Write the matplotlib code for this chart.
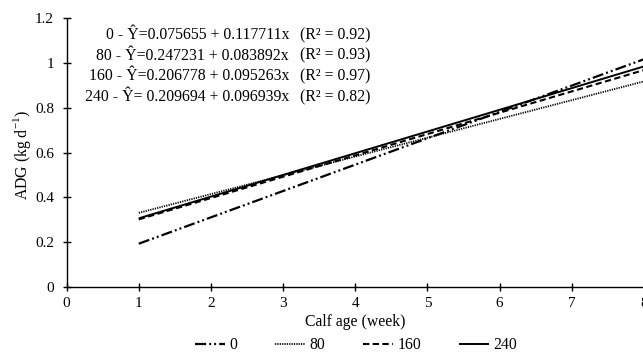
import matplotlib
matplotlib.use("Agg")
import matplotlib.pyplot as plt
import numpy as np

plt.rcParams['font.family'] = ['Liberation Serif', 'DejaVu Serif']
plt.rcParams['mathtext.fontset'] = 'custom'
plt.rcParams['mathtext.rm'] = 'Liberation Serif'
plt.rcParams['lines.scale_dashes'] = False

# Data
levels = ['0', '80', '160', '240']
intercepts = [0.075655, 0.247231, 0.206778, 0.209694]
slopes = [0.117711, 0.083892, 0.095263, 0.096939]
r2 = ['0.92', '0.93', '0.97', '0.82']
week_range = [1, 8]
x_ticks = [0, 1, 2, 3, 4, 5, 6, 7, 8]
y_ticks = [0, 0.2, 0.4, 0.6, 0.8, 1.0, 1.2]
y_ticklabels = ['0', '0.2', '0.4', '0.6', '0.8', '1', '1.2']
eq_texts = ['0 - Ŷ=0.075655 + 0.117711x',
            '80 - Ŷ=0.247231 + 0.083892x',
            '160 - Ŷ=0.206778 + 0.095263x',
            '240 - Ŷ= 0.209694 + 0.096939x']

styles = [
    dict(ls=(0, (8, 2.2, 1.4, 2.2, 1.4, 2.2)), lw=1.6),
    dict(ls=(0, (0.9, 0.8)), lw=1.3),
    dict(ls=(0, (4.5, 2.5)), lw=1.5),
    dict(ls='-', lw=1.4),
]

W, H = 643, 353
fig = plt.figure(figsize=(W / 100, H / 100), dpi=100)
ax = fig.add_axes([66.6 / W, 1 - 287 / H, (644 - 66.6) / W, (287 - 18.3) / H])

xs = np.array(week_range, dtype=float)
handles = []
for lvl, a, b, st in zip(levels, intercepts, slopes, styles):
    h, = ax.plot(xs, a + b * xs, color='black', linestyle=st['ls'], lw=st['lw'],
                 label=lvl, solid_capstyle='butt', dash_capstyle='butt')
    handles.append(h)

ax.set_xlim(0, 8)
ax.set_ylim(0, 1.2)
ax.set_xticks(x_ticks)
ax.set_xticklabels([str(t) for t in x_ticks])
ax.set_yticks(y_ticks)
ax.set_yticklabels(y_ticklabels)
for s in ['top', 'right']:
    ax.spines[s].set_visible(False)
for s in ['left', 'bottom']:
    ax.spines[s].set_linewidth(1.0)
ax.tick_params(axis='both', direction='inout', length=6, width=1.0, labelsize=11)
ax.tick_params(axis='x', pad=4)
ax.tick_params(axis='y', pad=6)

ax.set_xlabel('Calf age (week)', fontsize=11.3, labelpad=3)
fig.text(22 / W, 1 - 155 / H, 'ADG (kg d$^{\\mathregular{-1}}$)', rotation=90,
         ha='center', va='center', fontsize=11.3)

row_y = [35, 55.5, 76.5, 97]
for t, r, yy in zip(eq_texts, r2, row_y):
    fig.text(289 / W, 1 - yy / H, t, ha='right', va='center', fontsize=11.3)
    fig.text(300 / W, 1 - yy / H, '(R² = ' + r + ')', ha='left', va='center', fontsize=11.3)

fig.legend(handles=handles, labels=levels, loc='center', ncol=4, frameon=False,
           bbox_to_anchor=(356 / W, 1 - 345 / H), fontsize=11.3,
           handlelength=1.9, handletextpad=0.3, columnspacing=2.4)

fig.savefig('out.png', dpi=100)
